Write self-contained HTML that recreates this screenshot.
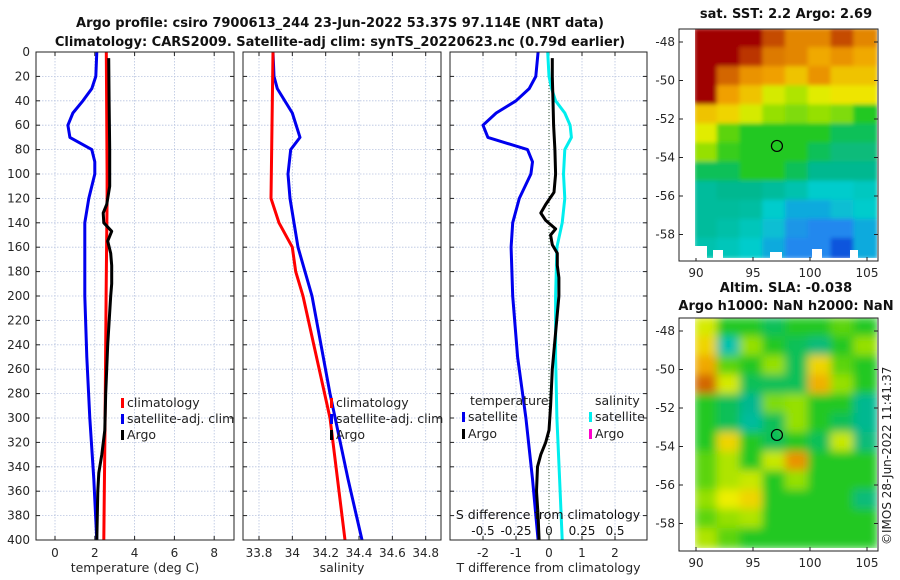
<!DOCTYPE html>
<html><head><meta charset="utf-8">
<style>
html,body{margin:0;padding:0;background:#fff;}
svg{display:block;font-family:"DejaVu Sans","Liberation Sans",sans-serif;}
</style></head>
<body>
<svg id="fig" width="900" height="580" viewBox="0 0 900 580">
<defs>
<clipPath id="c1"><rect x="695" y="29" width="182" height="229"/></clipPath>
<clipPath id="c2"><rect x="695" y="318" width="182" height="230"/></clipPath>
<filter id="blurS" x="-5%" y="-5%" width="110%" height="110%"><feGaussianBlur stdDeviation="2"/></filter>
<filter id="blurL" x="-10%" y="-10%" width="120%" height="120%"><feGaussianBlur stdDeviation="4.5"/></filter>
</defs>
<g id="root"></g>
</svg>
<script>
// ---- data ----
const depthsTclim=[0,100,120,200,300,400];
const tempClim=[2.58,2.62,2.62,2.57,2.52,2.45];
const depthsTsat=[0,20,30,40,50,60,70,80,90,100,120,140,155,200,250,300,350,400];
const tempSat=[2.1,2.05,1.85,1.4,0.9,0.65,0.75,1.85,2.0,2.0,1.7,1.5,1.5,1.5,1.6,1.75,1.95,2.1];
const depthsArgo=[5,40,80,110,125,132,140,147,155,165,175,190,200,240,280,310,330,345,360,400];
const tempArgo=[2.7,2.72,2.75,2.75,2.6,2.42,2.45,2.85,2.65,2.8,2.85,2.85,2.8,2.65,2.55,2.5,2.35,2.2,2.15,2.1];
const depthsSclim=[0,120,140,160,180,200,300,400];
const salClim=[33.884,33.872,33.92,34.0,34.02,34.064,34.226,34.316];
const depthsSsat=[0,20,30,50,70,80,100,120,160,200,280,350,400];
const salSat=[33.884,33.89,33.91,34.0,34.046,33.99,33.974,33.986,34.034,34.118,34.226,34.334,34.418];
const depthsDT=[0,20,30,40,50,60,70,80,90,100,120,140,160,200,250,300,350,400];
const tDiffSat=[-0.33,-0.4,-0.6,-1.0,-1.6,-2.0,-1.85,-0.65,-0.5,-0.55,-0.9,-1.1,-1.15,-1.1,-0.95,-0.7,-0.5,-0.33];
const depthsDS=[0,20,30,40,50,60,70,80,100,120,140,160,200,250,300,350,400];
const sDiffSat=[-0.01,0,0.02,0.05,0.12,0.16,0.17,0.12,0.11,0.12,0.1,0.06,0.05,0.05,0.06,0.08,0.1];
const depthsDA=[5,20,40,60,80,100,115,125,132,138,145,150,158,165,175,185,200,230,260,290,310,320,330,340,360,380,400];
const tDiffArgo=[0.1,0.1,0.12,0.14,0.18,0.2,0.15,-0.1,-0.25,-0.1,0.2,0.05,0.1,0.25,0.25,0.3,0.3,0.2,0.1,0.05,0,-0.1,-0.25,-0.35,-0.38,-0.33,-0.3];
const depthTicks=[0,20,40,60,80,100,120,140,160,180,200,220,240,260,280,300,320,340,360,380,400];
const tempTicks=[0,2,4,6,8];
const salTicks=[33.8,34,34.2,34.4,34.6,34.8];
const dtTicks=[-2,-1,0,1,2];
const dsTicks=[-0.5,-0.25,0,0.25,0.5];
const lonTicks=[90,95,100,105];
const latTicks=[-48,-50,-52,-54,-56,-58];
const sstGrid=[
[1,1,1,.88,.8,.8,.88,.8],
[1,1,.9,.82,.8,.75,.78,.75],
[1,.85,.78,.76,.72,.78,.72,.72],
[.95,.76,.72,.65,.62,.66,.68,.68],
[.72,.7,.65,.6,.58,.6,.58,.5],
[.66,.55,.5,.5,.5,.5,.45,.45],
[.6,.52,.5,.5,.5,.45,.42,.42],
[.45,.45,.5,.5,.45,.4,.4,.4],
[.38,.4,.4,.38,.35,.3,.3,.32],
[.38,.38,.37,.3,.25,.25,.28,.3],
[.38,.36,.33,.28,.22,.2,.2,.25],
[.35,.33,.3,.25,.2,.2,.1,.25]];
const slaGrid=[
[.65,.5,.5,.45,.5,.5,.55,.5],
[.7,.35,.6,.5,.45,.42,.5,.6],
[.75,.55,.5,.6,.45,.7,.55,.5],
[.85,.65,.45,.45,.45,.74,.6,.5],
[.5,.45,.4,.58,.6,.5,.5,.4],
[.5,.45,.38,.45,.6,.5,.45,.4],
[.5,.7,.5,.45,.5,.45,.64,.42],
[.55,.62,.5,.64,.78,.5,.5,.5],
[.55,.62,.64,.5,.6,.5,.5,.5],
[.6,.67,.7,.5,.5,.5,.5,.42],
[.55,.6,.62,.5,.5,.5,.5,.5],
[.62,.55,.5,.5,.5,.5,.5,.5]];
const argoLon=97.1, argoLat=-53.4;

// ---- helpers ----
const NS='http://www.w3.org/2000/svg';
const root=document.getElementById('root');
function mk(tag,attrs,parent,txt){const e=document.createElementNS(NS,tag);for(const k in attrs)e.setAttribute(k,attrs[k]);if(txt!==undefined)e.textContent=txt;(parent||root).appendChild(e);return e;}
const PT=52,PB=540;
const yD=d=>PT+(d-0)*(PB-PT)/400;
const P1={x0:36,x1:234,xv:t=>55+t*19.9};
const P2={x0:243,x1:441,xv:s=>259+(s-33.8)*166.7};
const P3={x0:450,x1:647,xv:t=>549+t*33,xs:s=>549+s*132};
const tickCol='#262626';

function panel(P,name,gridX,ticksX,labFn,xlabel){
  const g=mk('g',{});
  
  
  gridX.forEach(x=>mk('line',{x1:x,x2:x,y1:PT,y2:PB,stroke:'#b8c4e0','stroke-width':0.8,'stroke-dasharray':'1.5,1.5'},g));
  depthTicks.forEach(d=>{if(d>0&&d<400)mk('line',{x1:P.x0,x2:P.x1,y1:yD(d),y2:yD(d),stroke:'#b8c4e0','stroke-width':0.8,'stroke-dasharray':'1.5,1.5'},g);
    mk('line',{x1:P.x0,x2:P.x0+4,y1:yD(d),y2:yD(d),stroke:'#222'},g);
    mk('line',{x1:P.x1,x2:P.x1-4,y1:yD(d),y2:yD(d),stroke:'#222'},g);});
  ticksX.forEach(v=>{const x=labFn(v);mk('line',{x1:x,x2:x,y1:PB,y2:PB-4,stroke:'#222'},g);mk('line',{x1:x,x2:x,y1:PT,y2:PT+4,stroke:'#222'},g);
    const t=mk('text',{x:x,y:PB+17,'font-size':12,'text-anchor':'middle',fill:tickCol},g,String(v));
    });
  const xl=mk('text',{x:(P.x0+P.x1)/2,y:572,'font-size':12.5,'text-anchor':'middle',fill:tickCol},g,xlabel);
  
  return g;
}
function line(g,xs,ds,fx,col,name,w){
  const pts=xs.map((v,i)=>fx(v).toFixed(1)+','+yD(ds[i]).toFixed(1)).join(' ');
  const p=mk('polyline',{points:pts,fill:'none',stroke:col,'stroke-width':w||3,'stroke-linejoin':'round'},g);
  
}
function frame(g,P){mk('rect',{x:P.x0,y:PT,width:P.x1-P.x0,height:PB-PT,fill:'none',stroke:'#222','stroke-width':1},g);}
function legend(g,x,y,col,label,name){
  const e=mk('g',{},g);
  
  mk('rect',{x:x,y:y-9,width:3,height:10,fill:col},e);
  mk('text',{x:x+6,y:y,'font-size':12.5,fill:'#222'},e,label);
}

// titles
let t=mk('text',{x:340,y:27,'font-size':13,'font-weight':'bold','text-anchor':'middle',fill:'#111'},root,'Argo profile: csiro 7900613_244 23-Jun-2022 53.37S 97.114E (NRT data)');

t=mk('text',{x:340,y:46,'font-size':13,'font-weight':'bold','text-anchor':'middle',fill:'#111'},root,'Climatology: CARS2009. Satellite-adj clim: synTS_20220623.nc (0.79d earlier)');


// panel 1
const g1=panel(P1,'temperature-panel',tempTicks.map(P1.xv),tempTicks,P1.xv,'temperature (deg C)');
depthTicks.forEach(d=>{const l=mk('text',{x:30,y:yD(d)+4,'font-size':12,'text-anchor':'end',fill:tickCol},g1,String(d));
  });
line(g1,tempSat,depthsTsat,P1.xv,'#0000ee','temp-satellite-line');
line(g1,tempClim,depthsTclim,P1.xv,'#ff0000','temp-climatology-line');
line(g1,tempArgo,depthsArgo,P1.xv,'#000','temp-argo-line');
frame(g1,P1);
legend(g1,121,407,'#ff0000','climatology','legend-climatology');
legend(g1,121,423,'#0000ee','satellite-adj. clim','legend-satellite');
legend(g1,121,439,'#000','Argo','legend-argo');

// panel 2
const g2=panel(P2,'salinity-panel',salTicks.map(P2.xv),salTicks,P2.xv,'salinity');
line(g2,salSat,depthsSsat,P2.xv,'#0000ee','sal-satellite-line');
line(g2,salClim,depthsSclim,P2.xv,'#ff0000','sal-climatology-line');
frame(g2,P2);
legend(g2,330,407,'#ff0000','climatology','legend-climatology-sal');
legend(g2,330,423,'#0000ee','satellite-adj. clim','legend-satellite-sal');
legend(g2,330,439,'#000','Argo','legend-argo-sal');

// panel 3
const g3=panel(P3,'difference-panel',dtTicks.map(P3.xv),dtTicks,P3.xv,'T difference from climatology');
mk('line',{x1:P3.xv(0),x2:P3.xv(0),y1:PT,y2:PB,stroke:'#335533','stroke-width':1,'stroke-dasharray':'1,2'},g3);
line(g3,tDiffSat,depthsDT,P3.xv,'#0000ee','tdiff-satellite-line');
line(g3,sDiffSat,depthsDS,P3.xs,'#00eeee','sdiff-satellite-line');
line(g3,tDiffArgo,depthsDA,P3.xv,'#000','tdiff-argo-line');
frame(g3,P3);
mk('text',{x:470,y:405,'font-size':12.5,fill:'#222'},g3,'temperature');
legend(g3,462,421,'#0000ee','satellite','legend-t-satellite');
legend(g3,462,438,'#000','Argo','legend-t-argo');
mk('text',{x:595,y:405,'font-size':12.5,fill:'#222'},g3,'salinity');
legend(g3,589,421,'#00eeee','satellite','legend-s-satellite');
legend(g3,589,438,'#ff00cc','Argo','legend-s-argo');
t=mk('text',{x:548,y:519,'font-size':12.5,'text-anchor':'middle',fill:'#111'},g3,'S difference from climatology');

dsTicks.forEach(v=>{const l=mk('text',{x:P3.xs(v),y:535,'font-size':12,'text-anchor':'middle',fill:'#111'},g3,String(v));
  });

// maps
const stops=[[0,[0,34,204]],[0.2,[34,136,238]],[0.3,[0,204,204]],[0.4,[0,184,144]],[0.5,[34,200,34]],[0.6,[150,224,0]],[0.67,[238,238,0]],[0.76,[240,160,0]],[0.86,[208,96,0]],[0.95,[160,0,0]],[1,[160,0,0]]];
function cmap(v){for(let i=1;i<stops.length;i++){if(v<=stops[i][0]){const a=stops[i-1],b=stops[i],f=(v-a[0])/(b[0]-a[0]);return 'rgb('+a[1].map((c,j)=>Math.round(c+(b[1][j]-c)*f)).join(',')+')';}}return 'rgb(160,0,0)';}
function mapPanel(name,grid,top,bottom,lat48y,title1,title2,blur){
  const g=mk('g',{});
  
  const X0=695,X1=877,rows=grid.length,cols=grid[0].length;
  const cw=(X1-X0)/cols,rh=(bottom-top)/rows;
  const cg=mk('g',{'clip-path':'url(#'+(name==='sst-map'?'c1':'c2')+')'},g);
  const ig=mk('g',{filter:'url(#'+blur+')'},cg);
  grid.forEach((row,r)=>row.forEach((v,c)=>{const cell=mk('rect',{x:X0+c*cw-1,y:top+r*rh-1,width:cw+2,height:rh+2,fill:cmap(v)},ig);
    }));
  const lonX=l=>696+(l-90)*11.4;
  const latY=l=>lat48y+(-48-l)*19.25;
  mk('rect',{x:679,y:top,width:199,height:bottom-top+3,fill:'none',stroke:'#222'},g);
  lonTicks.forEach(l=>{const x=lonX(l);mk('line',{x1:x,x2:x,y1:bottom+3,y2:bottom-1,stroke:'#222'},g);
    const lb=mk('text',{x:x,y:bottom+19,'font-size':12,'text-anchor':'middle',fill:tickCol},g,String(l));
    });
  latTicks.forEach(l=>{const y=latY(l);mk('line',{x1:679,x2:683,y1:y,y2:y,stroke:'#222'},g);mk('line',{x1:878,x2:874,y1:y,y2:y,stroke:'#222'},g);
    const lb=mk('text',{x:675,y:y+4,'font-size':12,'text-anchor':'end',fill:tickCol},g,String(l));
    });
  const c=mk('circle',{cx:lonX(argoLon),cy:latY(argoLat),r:5.5,fill:'none',stroke:'#000','stroke-width':1.2},g);
  
  let tt=mk('text',{x:786,y:top-(title2?26:11),'font-size':13,'font-weight':'bold','text-anchor':'middle',fill:'#111'},g,title1);
  
  if(title2){tt=mk('text',{x:786,y:top-8,'font-size':13,'font-weight':'bold','text-anchor':'middle',fill:'#111'},g,title2);
    }
}
mapPanel('sst-map',sstGrid,29,258,42,'sat. SST: 2.2 Argo: 2.69',null,'blurS');
mapPanel('sla-map',slaGrid,318,548,331,'Altim. SLA: -0.038','Argo h1000: NaN h2000: NaN','blurL');
[[695,246,12,12],[713,250,10,8],[770,252,12,6],[812,249,10,9],[850,250,8,8]].forEach(r=>{
  const w=mk('rect',{x:r[0],y:r[1],width:r[2],height:r[3],fill:'#fff'});
  });
t=mk('text',{x:0,y:0,'font-size':12,fill:'#222',transform:'translate(891,545) rotate(-90)'},root,'©IMOS 28-Jun-2022 11:41:37');

</script>
</body></html>
